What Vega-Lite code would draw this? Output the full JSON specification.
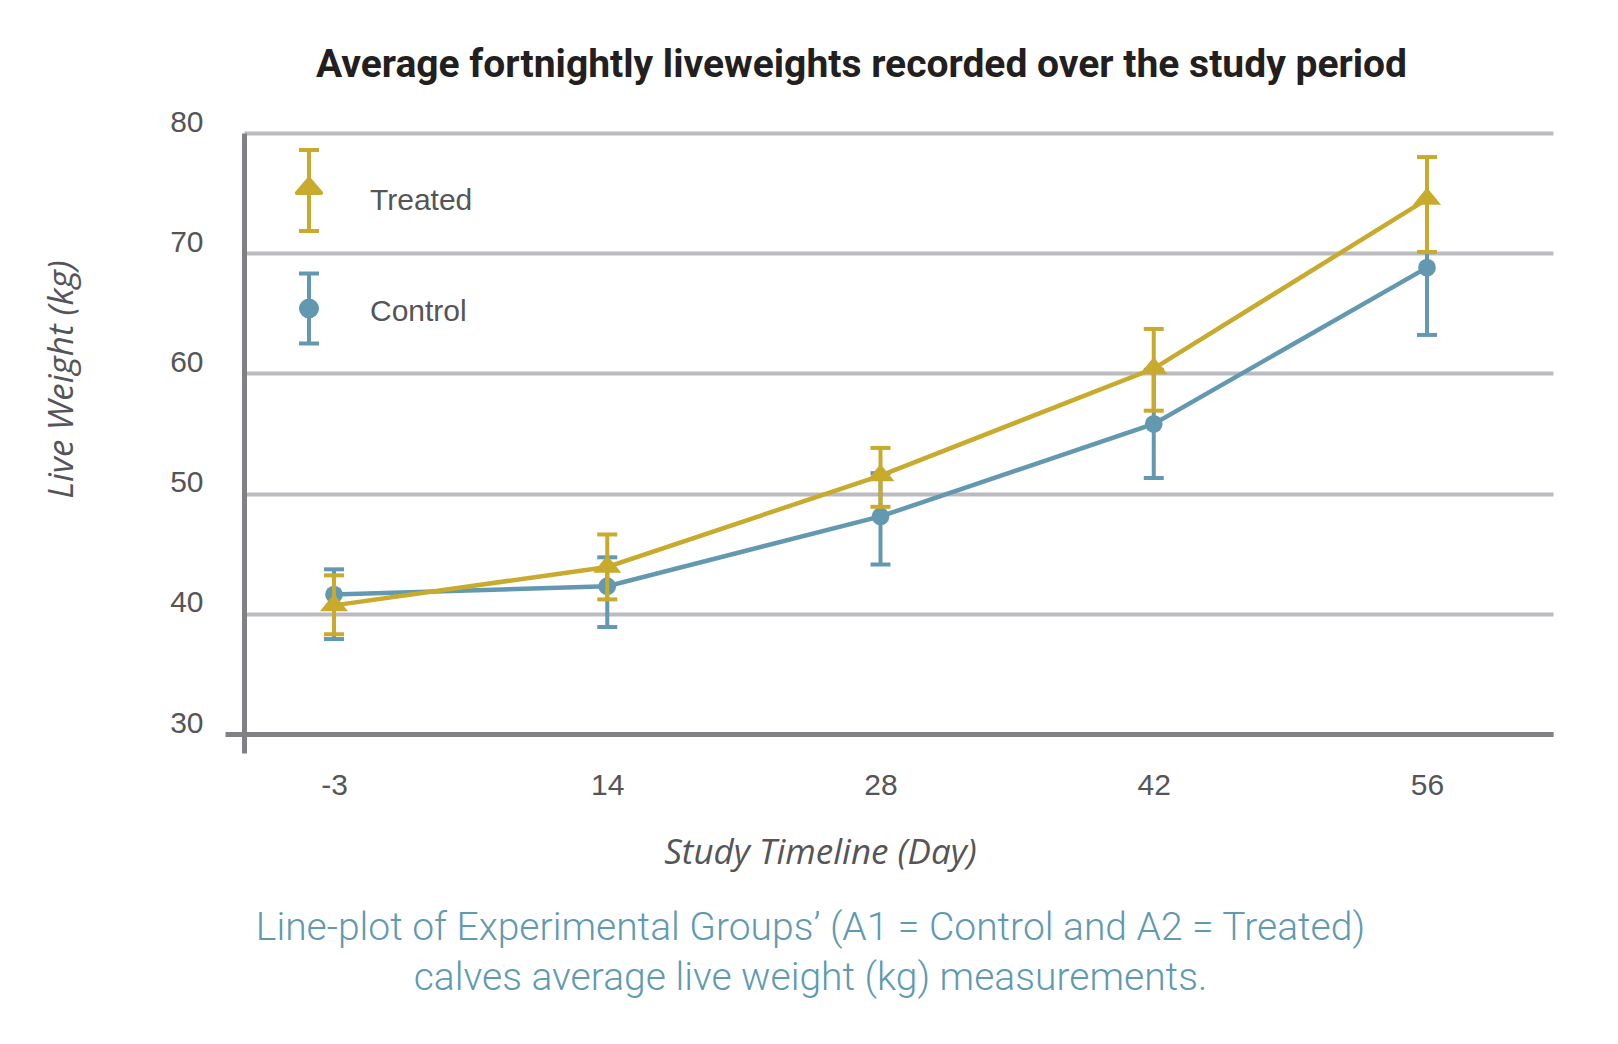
{
  "$schema": "https://vega.github.io/schema/vega-lite/v6.json",
  "background": "white",
  "padding": {"left": 43, "top": 46, "right": 10, "bottom": 10},
  "config": {"view": {"stroke": null}, "font": "Liberation Sans"},
  "title": {
    "text": "Average fortnightly liveweights recorded over the study period",
    "font": "Roboto", "fontSize": 39, "fontWeight": "bold", "color": "#231f20",
    "anchor": "middle", "frame": "group", "dx": -37, "baseline": "alphabetic", "offset": -9
  },
  "datasets": {
    "weights": [
      {"day": "-3", "group": "Treated", "mean": 40.7, "lo": 38.3, "hi": 43.2},
      {"day": "14", "group": "Treated", "mean": 43.9, "lo": 41.2, "hi": 46.6},
      {"day": "28", "group": "Treated", "mean": 51.5, "lo": 48.9, "hi": 53.8},
      {"day": "42", "group": "Treated", "mean": 60.4, "lo": 56.9, "hi": 63.7},
      {"day": "56", "group": "Treated", "mean": 74.5, "lo": 70.1, "hi": 78.0},
      {"day": "-3", "group": "Control", "mean": 41.6, "lo": 37.9, "hi": 43.7},
      {"day": "14", "group": "Control", "mean": 42.3, "lo": 38.9, "hi": 44.7},
      {"day": "28", "group": "Control", "mean": 48.1, "lo": 44.1, "hi": 51.7},
      {"day": "42", "group": "Control", "mean": 55.8, "lo": 51.3, "hi": 60.3},
      {"day": "56", "group": "Control", "mean": 68.8, "lo": 63.2, "hi": 74.3}
    ]
  },
  "vconcat": [
    {
      "width": 1309,
      "height": 620,
      "title": {
        "text": ["Line-plot of Experimental Groups’ (A1 = Control and A2 = Treated)", "calves average live weight (kg) measurements."],
        "orient": "bottom", "anchor": "middle", "frame": "group", "dx": -88,
        "font": "Roboto", "fontSize": 39, "fontWeight": 300, "color": "#5f9ab1",
        "baseline": "alphabetic", "offset": 70, "lineHeight": 50
      },
      "data": {"name": "weights"},
      "encoding": {
        "x": {
          "field": "day", "type": "ordinal", "sort": ["-3", "14", "28", "42", "56"],
          "scale": {"type": "point", "padding": 0.3953, "align": 0.4167},
          "axis": {
            "title": "Study Timeline (Day)", "offset": -19,
            "titleFont": "Open Sans", "titleFontStyle": "italic", "titleFontWeight": "normal",
            "titleFontSize": 35, "titleColor": "#555558",
            "titleX": 576, "titleY": 129, "titleAlign": "center", "titleBaseline": "alphabetic",
            "labelAngle": 0, "labelFont": "Liberation Sans", "labelFontSize": 30,
            "labelColor": "#555558", "labelPadding": 51, "labelBaseline": "middle",
            "ticks": false, "tickSize": 0, "grid": false,
            "domainColor": "#808085", "domainWidth": 5
          }
        },
        "y": {
          "field": "mean", "type": "quantitative", "title": "Live Weight (kg)",
          "scale": {"domain": [28.42, 80], "nice": false, "zero": false},
          "axis": {
            "values": [30, 40, 50, 60, 70, 80],
            "titleFont": "Open Sans", "titleFontStyle": "italic", "titleFontWeight": "normal",
            "titleFontSize": 35, "titleColor": "#555558", "titleAngle": -90,
            "titleX": -183, "titleY": 246, "titleAlign": "center", "titleBaseline": "middle",
            "grid": true, "gridColor": "#bcbcc0", "gridWidth": 4,
            "domainColor": "#808085", "domainWidth": 5,
            "ticks": true, "tickSize": 19, "tickWidth": 5,
            "tickColor": {"condition": {"test": "datum.value === 30", "value": "#808085"}, "value": "transparent"},
            "labelFont": "Liberation Sans", "labelFontSize": 30,
            "labelColor": "#555558", "labelPadding": 22, "labelOffset": -11, "labelBaseline": "middle"
          }
        }
      },
      "layer": [
        {
          "transform": [{"filter": "datum.group === 'Control'"}],
          "mark": {"type": "rule", "color": "#6399b0", "strokeWidth": 4},
          "encoding": {"y": {"field": "lo", "type": "quantitative", "title": "Live Weight (kg)"}, "y2": {"field": "hi"}}
        },
        {
          "transform": [{"filter": "datum.group === 'Control'"}],
          "mark": {"type": "tick", "color": "#6399b0", "size": 20, "thickness": 4, "opacity": 1},
          "encoding": {"y": {"field": "hi", "type": "quantitative", "title": "Live Weight (kg)"}}
        },
        {
          "transform": [{"filter": "datum.group === 'Control'"}],
          "mark": {"type": "tick", "color": "#6399b0", "size": 20, "thickness": 4, "opacity": 1},
          "encoding": {"y": {"field": "lo", "type": "quantitative", "title": "Live Weight (kg)"}}
        },
        {
          "transform": [{"filter": "datum.group === 'Control'"}],
          "mark": {"type": "line", "color": "#6399b0", "strokeWidth": 4.5},
          "encoding": {}
        },
        {
          "transform": [{"filter": "datum.group === 'Control'"}],
          "mark": {"type": "point", "filled": true, "opacity": 1, "shape": "circle", "size": 314, "strokeWidth": 0},
          "encoding": {
            "color": {
              "field": "group", "type": "nominal",
              "scale": {"domain": ["Treated", "Control"], "range": ["#c8aa2d", "#6399b0"]},
              "legend": {
                "title": null, "orient": "none", "legendX": 22.5, "legendY": 15, "padding": 0,
                "symbolSize": 6561, "symbolStrokeWidth": 4, "rowPadding": 33,
                "labelFont": "Liberation Sans", "labelFontSize": 30,
                "labelColor": "#555558", "labelOffset": 18.5, "labelBaseline": "middle",
                "encoding": {
                  "symbols": {
                    "shape": {"condition": {"test": "datum.value === 'Treated'", "value": "M0,-1L0,1M-0.247,-1L0.247,-1M-0.247,1L0.247,1M-0.3,0.06L0,-0.29L0.3,0.06Z"}, "value": "M0,-0.864L0,0.864M-0.247,-0.864L0.247,-0.864M-0.247,0.864L0.247,0.864M0.198,0A0.198,0.198,0,1,1,-0.198,0A0.198,0.198,0,1,1,0.198,0Z"},
                    "fill": {"condition": {"test": "datum.value === 'Treated'", "value": "#c8aa2d"}, "value": "#6399b0"},
                    "stroke": {"condition": {"test": "datum.value === 'Treated'", "value": "#c8aa2d"}, "value": "#6399b0"},
                    "strokeWidth": {"value": 4},
                    "strokeJoin": {"value": "round"},
                    "size": {"value": 6561},
                    "opacity": {"value": 1},
                    "fillOpacity": {"value": 1},
                    "strokeOpacity": {"value": 1}
                  },
                  "labels": {
                    "dy": {"condition": {"test": "datum.value === 'Treated'", "value": 10}, "value": 3}
                  }
                }
              }
            }
          }
        },
        {
          "transform": [{"filter": "datum.group === 'Treated'"}],
          "mark": {"type": "rule", "color": "#c8aa2d", "strokeWidth": 4},
          "encoding": {"y": {"field": "lo", "type": "quantitative", "title": "Live Weight (kg)"}, "y2": {"field": "hi"}}
        },
        {
          "transform": [{"filter": "datum.group === 'Treated'"}],
          "mark": {"type": "tick", "color": "#c8aa2d", "size": 20, "thickness": 4, "opacity": 1},
          "encoding": {"y": {"field": "hi", "type": "quantitative", "title": "Live Weight (kg)"}}
        },
        {
          "transform": [{"filter": "datum.group === 'Treated'"}],
          "mark": {"type": "tick", "color": "#c8aa2d", "size": 20, "thickness": 4, "opacity": 1},
          "encoding": {"y": {"field": "lo", "type": "quantitative", "title": "Live Weight (kg)"}}
        },
        {
          "transform": [{"filter": "datum.group === 'Treated'"}],
          "mark": {"type": "line", "color": "#c8aa2d", "strokeWidth": 4.5},
          "encoding": {}
        },
        {
          "transform": [{"filter": "datum.group === 'Treated'"}],
          "mark": {"type": "point", "filled": true, "opacity": 1, "shape": "M-1,0.41L0,-0.83L1,0.41Z", "size": 784, "strokeWidth": 0},
          "encoding": {
            "color": {
              "field": "group", "type": "nominal",
              "scale": {"domain": ["Treated", "Control"], "range": ["#c8aa2d", "#6399b0"]},
              "legend": {
                "title": null, "orient": "none", "legendX": 22.5, "legendY": 15, "padding": 0,
                "symbolSize": 6561, "symbolStrokeWidth": 4, "rowPadding": 33,
                "labelFont": "Liberation Sans", "labelFontSize": 30,
                "labelColor": "#555558", "labelOffset": 18.5, "labelBaseline": "middle",
                "encoding": {
                  "symbols": {
                    "shape": {"condition": {"test": "datum.value === 'Treated'", "value": "M0,-1L0,1M-0.247,-1L0.247,-1M-0.247,1L0.247,1M-0.3,0.06L0,-0.29L0.3,0.06Z"}, "value": "M0,-0.864L0,0.864M-0.247,-0.864L0.247,-0.864M-0.247,0.864L0.247,0.864M0.198,0A0.198,0.198,0,1,1,-0.198,0A0.198,0.198,0,1,1,0.198,0Z"},
                    "fill": {"condition": {"test": "datum.value === 'Treated'", "value": "#c8aa2d"}, "value": "#6399b0"},
                    "stroke": {"condition": {"test": "datum.value === 'Treated'", "value": "#c8aa2d"}, "value": "#6399b0"},
                    "strokeWidth": {"value": 4},
                    "strokeJoin": {"value": "round"},
                    "size": {"value": 6561},
                    "opacity": {"value": 1},
                    "fillOpacity": {"value": 1},
                    "strokeOpacity": {"value": 1}
                  },
                  "labels": {
                    "dy": {"condition": {"test": "datum.value === 'Treated'", "value": 10}, "value": 3}
                  }
                }
              }
            }
          }
        }
      ]
    }
  ]
}
